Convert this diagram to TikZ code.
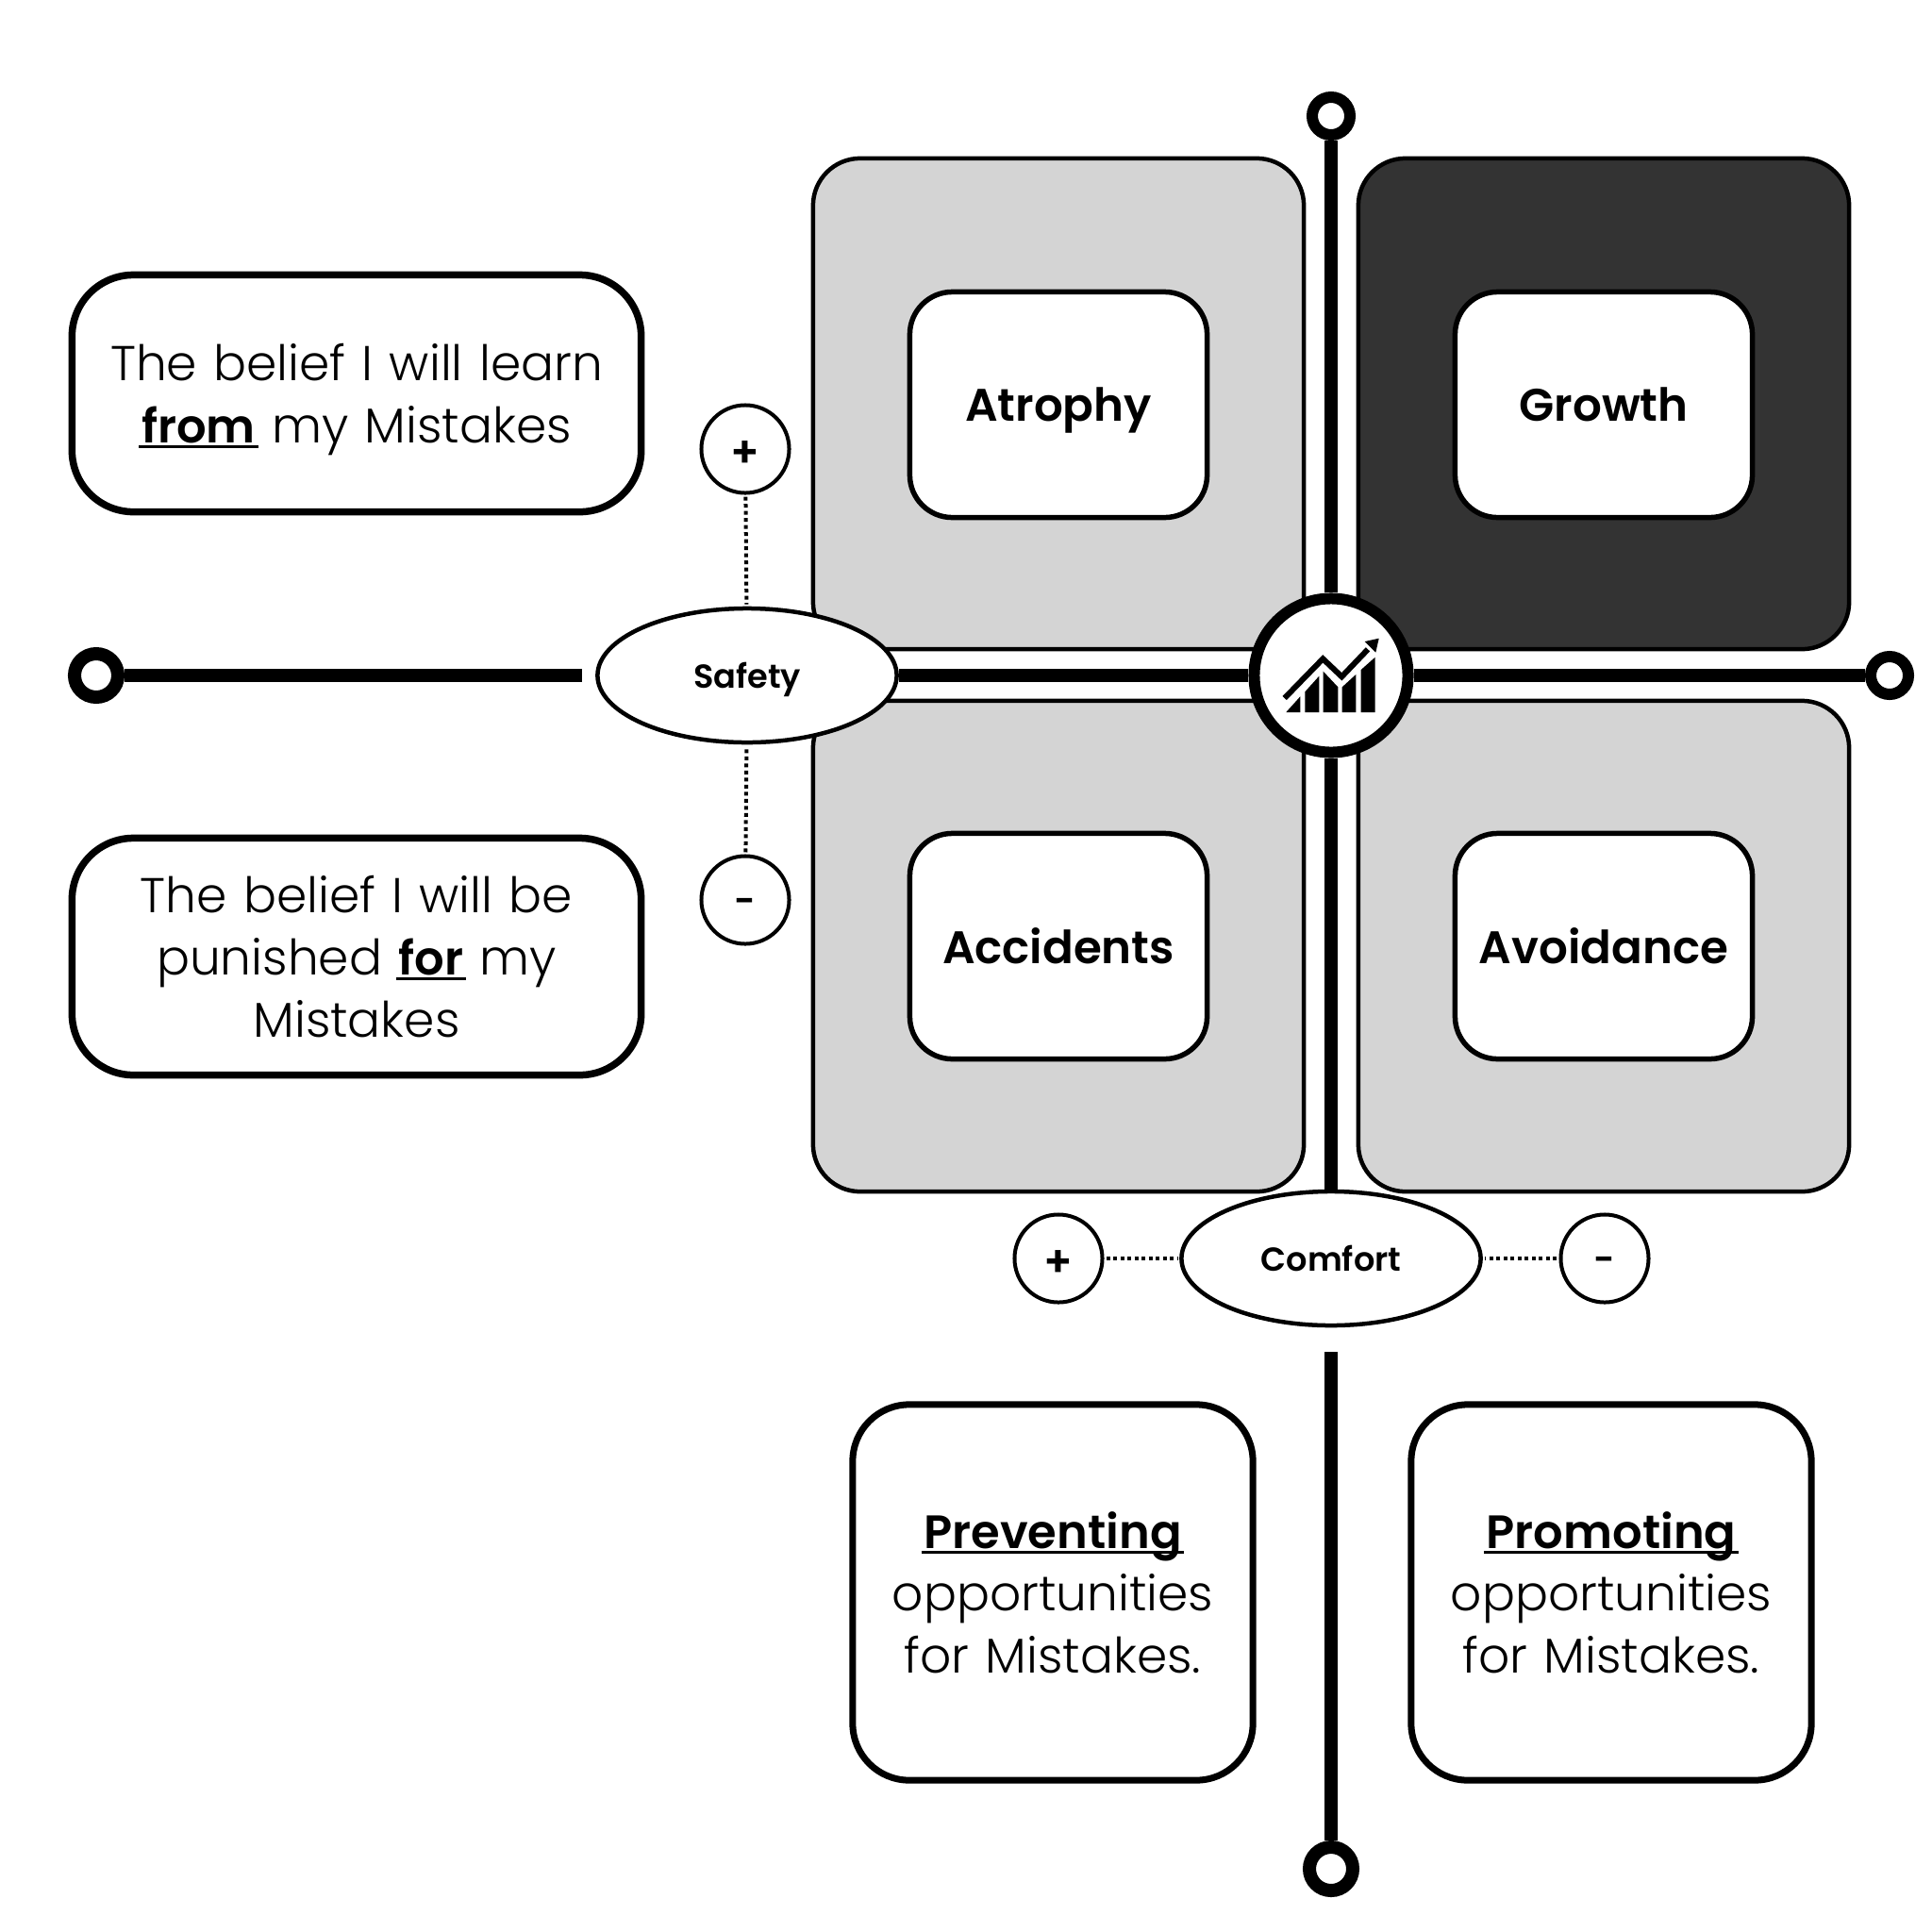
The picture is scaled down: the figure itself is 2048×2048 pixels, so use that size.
\documentclass[tikz,border=0pt]{standalone}
\usepackage{fontspec}
\setmainfont{Poppins}[UprightFont=* Light,BoldFont=* SemiBold]
\usetikzlibrary{calc,shapes.geometric}
\newcommand{\ulword}[1]{\leavevmode\setbox0\hbox{\fontsize{14.1}{18.7}\selectfont\textbf{#1}}\rlap{\kern-0.8pt\smash{\rule[-1.5pt]{\dimexpr\wd0+1.6pt}{0.85pt}}}\box0\relax}
\tikzset{
	quadgray/.style={draw=black, line width=0.45mm, fill=black!17, rounded corners=0.5cm, minimum width=5.2cm, minimum height=5.2cm, inner sep=0},
	quaddark/.style={quadgray, fill=black!80},
	namebox/.style={draw=black, line width=0.55mm, fill=white, rounded corners=0.45cm, minimum width=3.15cm, minimum height=2.39cm, inner sep=0, text depth=0pt, font=\fontsize{13.75}{16}\selectfont\bfseries},
	beliefbox/.style={draw=black, line width=0.75mm, fill=white, rounded corners=0.65cm, minimum width=6.03cm, minimum height=2.51cm, inner sep=0, text width=5.9cm, align=center, font=\fontsize{14.75}{18.7}\selectfont},
	chancebox/.style={beliefbox, line width=0.7mm, rounded corners=0.6cm, minimum width=4.24cm, minimum height=3.98cm, text width=4.1cm},
	axis/.style={draw=black, line width=1.35mm},
	axisend/.style={circle, draw=black, fill=white, line width=1.2mm, minimum size=0.4cm, inner sep=0},
	bigaxisend/.style={circle, draw=black, fill=white, line width=1.4mm, minimum size=0.46cm, inner sep=0},
	dimension/.style={ellipse, draw=black, line width=0.45mm, fill=white, minimum width=3.17cm, minimum height=1.42cm, inner sep=0, text depth=0pt, font=\fontsize{10}{12}\selectfont\bfseries},
	sign/.style={circle, draw=black, line width=0.4mm, fill=white, minimum size=0.93cm, inner sep=0, text height=10.8pt, text depth=0pt, font=\fontsize{13}{15}\selectfont\bfseries},
	signminus/.style={sign, text height=8pt, font=\fontsize{11}{13}\selectfont\bfseries},
	signlink/.style={draw=black, line width=0.4mm, dash pattern=on 0.4mm off 0.35mm, shorten >=0.2mm, shorten <=0.2mm},
}
\begin{document}
\begin{tikzpicture}[x=0.01cm, y=-0.01cm]
	%%%%% START %%%%%
	\useasboundingbox (0, 0) rectangle (2048, 2048);
	\fill[white] (0, 0) rectangle (2048, 2048);

	% quadrants
	\node[quadgray] (atrophyquad) at (1122, 428) {};
	\node[quaddark] (growthquad) at (1700, 428) {};
	\node[quadgray] (accidentsquad) at (1122, 1003) {};
	\node[quadgray] (avoidancequad) at (1700, 1003) {};

	\node[namebox] (atrophy) at (1122, 429) {Atrophy};
	\node[namebox] (growth) at (1700, 429) {Growth};
	\node[namebox] (accidents) at (1122, 1003) {Accidents};
	\node[namebox] (avoidance) at (1700, 1003) {Avoidance};

	% centre and dimensions
	\node[circle, draw=black, line width=1.2mm, fill=white, minimum size=1.63cm, inner sep=0] (hub) at (1411, 716) {};
	\node[dimension] (safety) at (792, 716) {Safety};
	\node[dimension] (comfort) at (1411, 1334) {Comfort};

	\node[sign] (safetyplus) at (790, 476) {+};
	\node[signminus] (safetyminus) at (790, 954) {-};
	\node[sign] (comfortplus) at (1122, 1334) {+};
	\node[signminus] (comfortminus) at (1701, 1334) {-};

	\draw[signlink] (safetyplus) -- (safety);
	\draw[signlink] (safetyminus) -- (safety);
	\draw[signlink] (comfortplus) -- (comfort);
	\draw[signlink] (comfortminus) -- (comfort);

	% axes
	\node[axisend] (north) at (1411, 123) {};
	\node[axisend] (east) at (2003, 716) {};
	\node[bigaxisend] (west) at (102, 716) {};
	\node[bigaxisend] (south) at (1411, 1981) {};
	\coordinate (westgap) at (617, 716);
	\coordinate (southgap) at (1411, 1433);

	\draw[axis] (north) -- (hub);
	\draw[axis] (hub) -- (comfort);
	\draw[axis] (hub) -- (safety);
	\draw[axis] (hub) -- (east);
	\draw[axis] (west) -- (westgap);
	\draw[axis] (southgap) -- (south);

	% chart in the centre
	\fill (1363.3, 755) -- (1378.3, 755) -- (1378.3, 738.3) -- cycle;
	\fill (1383.3, 755) -- (1398.3, 755) -- (1398.3, 716.7) -- (1383.3, 733.3) -- cycle;
	\fill (1402.7, 755) -- (1418.3, 755) -- (1418.3, 728.3) -- (1402.7, 711.7) -- cycle;
	\fill (1422.7, 755) -- (1437.3, 755) -- (1437.3, 715) -- (1422.7, 728.3) -- cycle;
	\fill (1442.7, 755) -- (1457.7, 755) -- (1457.7, 696.7) -- (1442.7, 710) -- cycle;
	\draw[line width=0.6mm] (1361.7, 740) -- (1402.3, 698.3) -- (1422.3, 717.3) -- (1450, 688.3);
	\fill (1461.7, 676.7) -- (1446.7, 680) -- (1458.3, 691.7) -- cycle;

	% beliefs
	\node[beliefbox] (learn) at (378, 417) {The belief I will learn\\\ulword{from} \smash{my} Mistakes};
	\node[beliefbox] (punish) at (378, 1014) {The belief I will be\\punished \ulword{for} my\\Mistakes};

	% opportunities
	\node[chancebox] (preventing) at (1116, 1688) {\ulword{Preventing}\\opportunities\\for Mistakes.};
	\node[chancebox] (promoting) at (1708, 1688) {\ulword{Promoting}\\opportunities\\for Mistakes.};
	%%%%% END %%%%%
\end{tikzpicture}
\end{document}
